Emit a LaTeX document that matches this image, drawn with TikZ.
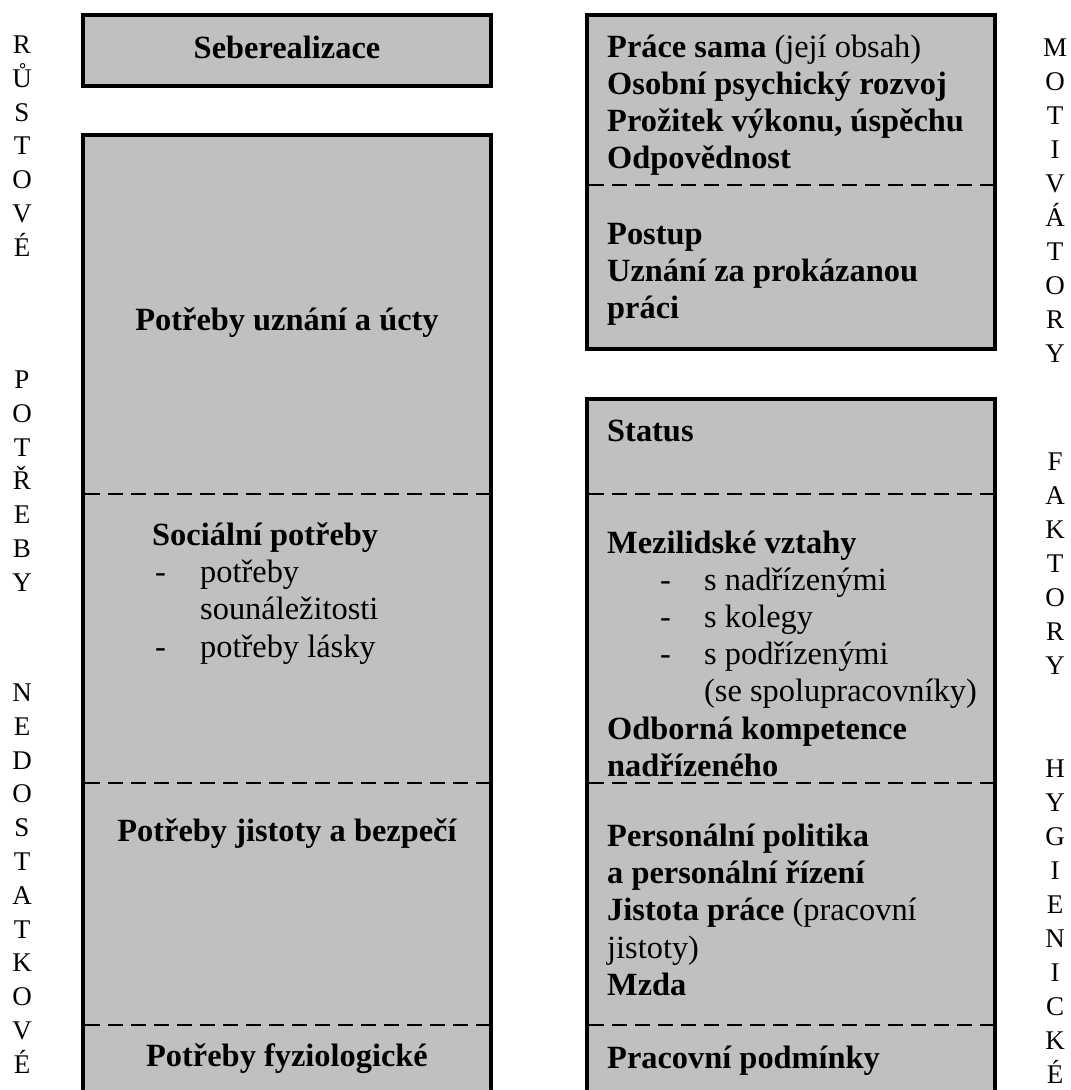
\documentclass[tikz,border=0pt]{standalone}
\usepackage{fontspec}
\setmainfont{Liberation Serif}
\definecolor{boxgray}{RGB}{192,192,192}
\tikzset{
  box/.style={draw=black, line width=4pt, fill=boxgray},
  sepline/.style={line width=2pt, dash pattern=on 15pt off 8pt},
  bt/.style={font=\fontsize{32.4}{37.3}\selectfont\bfseries, inner sep=0pt, anchor=base west, align=left},
  rt/.style={font=\fontsize{32.4}{37.3}\selectfont, inner sep=0pt, anchor=base west, align=left},
  ct/.style={font=\fontsize{32.4}{37.3}\selectfont\bfseries, inner sep=0pt, anchor=base},
  lcol/.style={font=\fontsize{27}{33.8}\selectfont, inner sep=0pt, anchor=base, align=center},
  rcol/.style={font=\fontsize{27}{34}\selectfont, inner sep=0pt, anchor=base, align=center}
}
\begin{document}
\begin{tikzpicture}[x=1pt,y=-1pt]
\useasboundingbox (0,0) rectangle (1071,1090);
\clip (0,0) rectangle (1071,1090);
\fill[white] (0,0) rectangle (1071,1090);
% boxes
\draw[box] (83,15) rectangle (491,86);
\draw[box] (83,135) rectangle (491,1130);
\draw[box] (587,15) rectangle (995,349);
\draw[box] (587,399) rectangle (995,1130);
% dashed separators
\draw[sepline] (85,494) -- (489,494);
\draw[sepline] (85,783) -- (489,783);
\draw[sepline] (85,1025) -- (489,1025);
\draw[sepline] (589,185) -- (993,185);
\draw[sepline] (589,494) -- (993,494);
\draw[sepline] (589,783) -- (993,783);
\draw[sepline] (589,1025) -- (993,1025);
% left texts (multi-line nodes: anchor = baseline of last line)
\node[ct] (sebe) at (287,58) {Seberealizace};
\node[ct] (uzn) at (287,330) {Potřeby uznání a úcty};
\node[bt] (soc) at (152,545) {Sociální potřeby};
\node[rt] (socd1) at (155,582) {-};
\node[rt] (soct1) at (200,619.3) {potřeby\\sounáležitosti};
\node[rt] (socd2) at (155,657) {-};
\node[rt] (soct2) at (200,657) {potřeby lásky};
\node[ct] (jist) at (287,841) {Potřeby jistoty a bezpečí};
\node[ct] (fyz) at (287,1066) {Potřeby fyziologické};
% right texts
\node[bt] (mot1) at (607,168.9) {Práce sama \textmd{(její obsah)}\\Osobní psychický rozvoj\\Prožitek výkonu, úspěchu\\Odpovědnost};
\node[bt] (mot2) at (607,318.6) {Postup\\Uznání za prokázanou\\práci};
\node[bt] (stat) at (607,441) {Status};
\node[bt] (mezi) at (607,553) {Mezilidské vztahy};
\node[rt] (mezd1) at (660,590) {-};
\node[rt] (mezd2) at (660,627) {-};
\node[rt] (mezd3) at (660,664) {-};
\node[rt] (mezt) at (704,701.9) {s nadřízenými\\s kolegy\\s podřízenými\\(se spolupracovníky)};
\node[bt] (odb) at (607,776.3) {Odborná kompetence\\nadřízeného};
\node[bt] (pers) at (607,920.6) {Personální politika\\a personální řízení\\Jistota práce \textmd{(pracovní}};
\node[rt] (jis2) at (607,958) {jistoty)};
\node[bt] (mzda) at (607,995) {Mzda};
\node[bt] (prac) at (607,1068) {Pracovní podmínky};
% letter columns
\node[lcol] (rust) at (22,256.3) {R\\Ů\\S\\T\\O\\V\\É};
\node[lcol] (potr) at (22,591.3) {P\\O\\T\\Ř\\E\\B\\Y};
\node[lcol] (nedo) at (22,1073.3) {N\\E\\D\\O\\S\\T\\A\\T\\K\\O\\V\\É};
\node[rcol] (moti) at (1055,362.5) {M\\O\\T\\I\\V\\Á\\T\\O\\R\\Y};
\node[rcol] (fakt) at (1055,674.5) {F\\A\\K\\T\\O\\R\\Y};
\node[rcol] (hygi) at (1055,1083.5) {H\\Y\\G\\I\\E\\N\\I\\C\\K\\É};
\end{tikzpicture}
\end{document}
